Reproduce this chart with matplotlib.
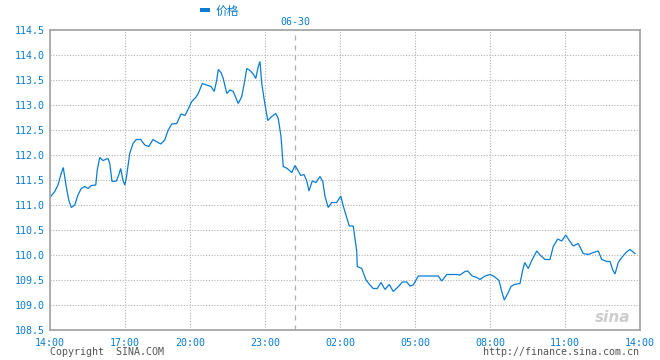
import numpy as np
import matplotlib
matplotlib.use("Agg")
import matplotlib.pyplot as plt
from matplotlib.patches import Rectangle

# session hours from 14:00 (axis runs 0 .. 23.6)
hours = [0.0, 0.19, 0.32, 0.43, 0.53, 0.65, 0.75, 0.85, 0.99, 1.12,
         1.25, 1.39, 1.52, 1.65, 1.83, 1.89, 1.99, 2.12, 2.32, 2.39,
         2.48, 2.65, 2.75, 2.83, 2.92, 2.99, 3.05, 3.19, 3.32, 3.45,
         3.63, 3.79, 3.95, 4.12, 4.25, 4.43, 4.59, 4.72, 4.87, 5.07,
         5.24, 5.40, 5.51, 5.67, 5.83, 5.93, 6.09, 6.27, 6.44, 6.57,
         6.67, 6.73, 6.84, 6.93, 7.07, 7.20, 7.33, 7.53, 7.67, 7.77,
         7.87, 8.00, 8.13, 8.23, 8.33, 8.40, 8.47, 8.57, 8.71, 8.87,
         9.03, 9.13, 9.24, 9.33, 9.49, 9.67, 9.80, 9.93, 10.03, 10.16,
         10.27, 10.36, 10.49, 10.64, 10.80, 10.91, 11.00, 11.13, 11.27, 11.47,
         11.63, 11.73, 11.87, 11.97, 12.13, 12.27, 12.29, 12.47, 12.64, 12.80,
         12.93, 13.09, 13.24, 13.40, 13.57, 13.73, 13.96, 14.09, 14.27, 14.40,
         14.53, 14.73, 15.53, 15.67, 15.87, 16.27, 16.40, 16.60, 16.71, 16.89,
         17.07, 17.20, 17.40, 17.60, 17.77, 17.96, 18.07, 18.17, 18.31, 18.44,
         18.57, 18.80, 18.91, 18.99, 19.13, 19.27, 19.47, 19.60, 19.80, 20.00,
         20.13, 20.31, 20.47, 20.63, 20.77, 20.93, 21.13, 21.33, 21.53, 21.73,
         21.93, 22.07, 22.27, 22.40, 22.51, 22.60, 22.73, 22.87, 23.04, 23.20,
         23.40]

price = [111.15, 111.27, 111.40, 111.60, 111.75, 111.37, 111.10, 110.95, 111.00, 111.20,
         111.33, 111.37, 111.33, 111.39, 111.40, 111.70, 111.95, 111.89, 111.93, 111.83,
         111.47, 111.48, 111.60, 111.73, 111.49, 111.40, 111.53, 112.03, 112.23, 112.31,
         112.31, 112.20, 112.17, 112.31, 112.27, 112.22, 112.30, 112.49, 112.62, 112.63,
         112.82, 112.79, 112.90, 113.07, 113.15, 113.23, 113.43, 113.40, 113.37, 113.27,
         113.50, 113.71, 113.65, 113.53, 113.23, 113.30, 113.27, 113.03, 113.17, 113.43,
         113.73, 113.69, 113.62, 113.53, 113.77, 113.87, 113.43, 113.10, 112.69, 112.77,
         112.83, 112.73, 112.37, 111.77, 111.73, 111.65, 111.79, 111.68, 111.59, 111.61,
         111.48, 111.28, 111.48, 111.45, 111.57, 111.47, 111.17, 110.95, 111.05, 111.05,
         111.18, 110.98, 110.75, 110.58, 110.58, 110.07, 109.77, 109.73, 109.50, 109.40,
         109.33, 109.33, 109.45, 109.31, 109.41, 109.27, 109.38, 109.46, 109.46, 109.38,
         109.40, 109.58, 109.58, 109.48, 109.61, 109.61, 109.60, 109.67, 109.68, 109.58,
         109.55, 109.51, 109.58, 109.61, 109.57, 109.49, 109.27, 109.10, 109.23, 109.37,
         109.41, 109.43, 109.70, 109.85, 109.73, 109.89, 110.08, 110.00, 109.91, 109.91,
         110.17, 110.32, 110.28, 110.40, 110.29, 110.18, 110.23, 110.03, 110.01, 110.05,
         110.08, 109.91, 109.87, 109.87, 109.70, 109.62, 109.85, 109.95, 110.05, 110.11,
         110.03]

tick_pos = [0, 3, 5.6, 8.6, 11.6, 14.6, 17.6, 20.6, 23.6]
tick_labels = ["14:00", "17:00", "20:00", "23:00", "02:00", "05:00", "08:00", "11:00", "14:00"]
day_break = 9.8
yticks = np.arange(108.5, 114.51, 0.5)

blue = "#0a7cd2"
grid_c = "#b0b0b0"
mono = "DejaVu Sans Mono"

fig = plt.figure(figsize=(6.6, 3.6), dpi=100)
ax = fig.add_axes([50 / 660, 30 / 360, 590 / 660, 300 / 360])

ax.plot(hours, price, color=blue, lw=0.9, solid_joinstyle="miter")

ax.set_xlim(0, 23.6)
ax.set_ylim(108.5, 114.5)
ax.set_xticks(tick_pos)
ax.set_xticklabels(tick_labels)
ax.set_yticks(yticks)
ax.set_yticklabels([f"{v:.1f}" for v in yticks])
ax.tick_params(length=0, colors=blue, labelsize=7.2, pad=4)
ax.tick_params(axis="x", pad=6)
for lab in ax.get_xticklabels() + ax.get_yticklabels():
    lab.set_family(mono)

for y in yticks[1:-1]:
    ax.axhline(y, color=grid_c, lw=0.8, ls=(0, (1, 1.5)), zorder=0)
for x in tick_pos[1:-1]:
    ax.axvline(x, color=grid_c, lw=0.8, ls=(0, (1, 1.5)), zorder=0)
ax.axvline(day_break, color=grid_c, lw=0.9, ls=(0, (4, 4)), zorder=0)

for s in ax.spines.values():
    s.set_color("#a0a0a0")
    s.set_linewidth(1.2)

# header: legend + date
fig.patches.append(Rectangle((200 / 660, 1 - 11.5 / 360), 10 / 660, 3.5 / 360,
                             transform=fig.transFigure, color=blue, lw=0))
fig.text(216 / 660, 1 - 11 / 360, "价格", color=blue, fontsize=8.5,
         ha="left", va="center", family=["Noto Sans CJK SC", "DejaVu Sans"])
fig.text(295 / 660, 1 - 22 / 360, "06-30", color=blue, fontsize=7.2,
         ha="center", va="center", family=mono)

# footer
fig.text(50 / 660, 1 - 352 / 360, "Copyright  SINA.COM", color="#555555", fontsize=7.2,
         ha="left", va="center", family=mono)
fig.text(639 / 660, 1 - 352 / 360, "http://finance.sina.com.cn", color="#555555",
         fontsize=7.2, ha="right", va="center", family=mono)
fig.text(613 / 660, 1 - 318 / 360, "sina", color="#c8c8c8", fontsize=11,
         fontweight="bold", style="italic", ha="center", va="center", alpha=0.9)

fig.savefig("out.png", dpi=100)
